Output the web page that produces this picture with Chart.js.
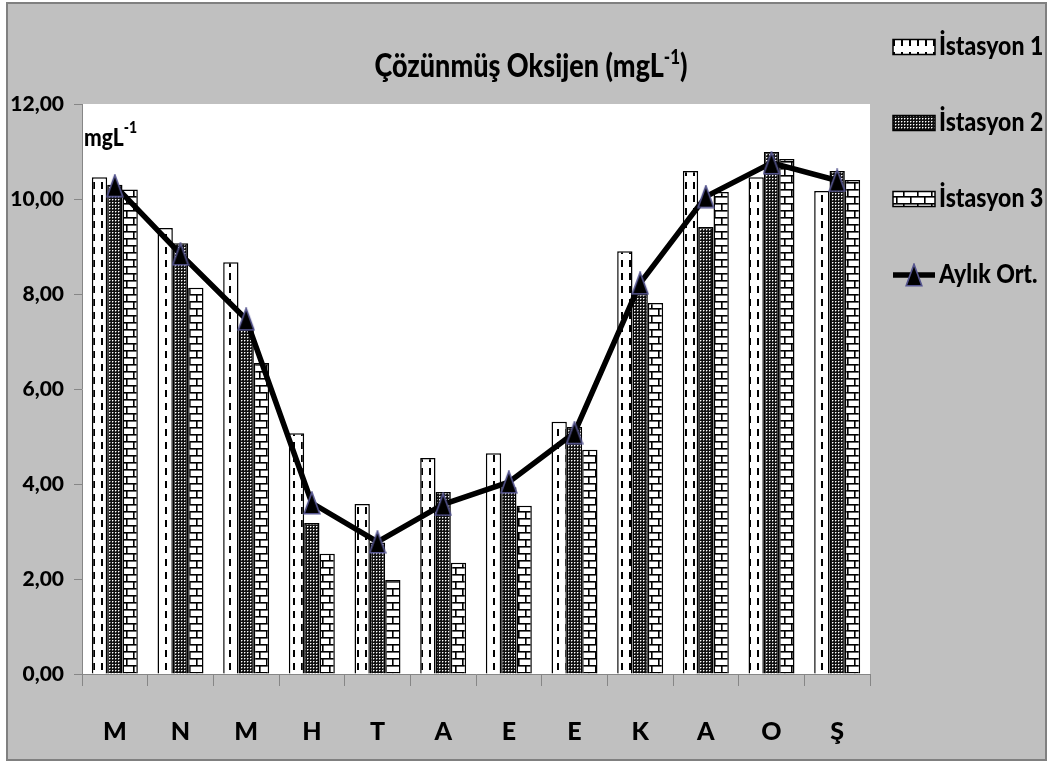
<!DOCTYPE html>
<html>
<head>
<meta charset="utf-8">
<script src="https://cdn.jsdelivr.net/npm/chart.js@4/dist/chart.umd.min.js"></script>
<style>
  html, body { margin: 0; padding: 0; background: #fff; }
  #c { display: block; }
</style>
</head>
<body>
<canvas id="c" width="1051" height="762"></canvas>
<script>
// Monthly dissolved oxygen (mg/L) at three stations plus the monthly mean
const months = ['M', 'N', 'M', 'H', 'T', 'A', 'E', 'E', 'K', 'A', 'O', 'Ş'];
const istasyon1 = [10.46, 9.39, 8.67, 5.07, 3.58, 4.55, 4.65, 5.31, 8.90, 10.59, 10.46, 10.17];
const istasyon2 = [10.30, 9.07, 7.28, 3.18, 2.77, 3.83, 3.93, 5.20, 8.00, 9.41, 10.99, 10.59];
const istasyon3 = [10.20, 8.13, 6.55, 2.53, 1.98, 2.34, 3.54, 4.72, 7.81, 10.15, 10.84, 10.40];
const aylikOrt  = [10.28, 8.84, 7.47, 3.60, 2.78, 3.57, 4.04, 5.08, 8.23, 10.05, 10.76, 10.39];
const seriesNames = ['İstasyon 1', 'İstasyon 2', 'İstasyon 3', 'Aylık Ort.'];
const yMin = 0, yMax = 12, yStep = 2;

const FONT = 'Lato, "Open Sans", sans-serif';
const WEIGHT = '900';

// ---- fill patterns -------------------------------------------------------
function makeCanvas(w, h) {
  const c = document.createElement('canvas');
  c.width = w; c.height = h;
  return c;
}
const patCtx = document.getElementById('c').getContext('2d');

// white with a dashed vertical stripe
function dashedPattern() {
  const c = makeCanvas(8, 13), g = c.getContext('2d');
  g.fillStyle = '#fff'; g.fillRect(0, 0, 8, 13);
  g.fillStyle = '#000'; g.fillRect(5, 0, 2, 7);
  return patCtx.createPattern(c, 'repeat');
}
// dark mesh with small light dots
function dottedPattern() {
  const c = makeCanvas(3, 3), g = c.getContext('2d');
  g.fillStyle = '#111'; g.fillRect(0, 0, 3, 3);
  g.fillStyle = '#fff'; g.fillRect(1, 1, 1, 1);
  g.fillStyle = '#777'; g.fillRect(2, 1, 1, 1); g.fillRect(1, 2, 1, 1);
  return patCtx.createPattern(c, 'repeat');
}
// white bricks with black mortar lines
function brickPattern() {
  const c = makeCanvas(14, 14), g = c.getContext('2d');
  g.fillStyle = '#fff'; g.fillRect(0, 0, 14, 14);
  g.fillStyle = '#000';
  g.fillRect(0, 0, 14, 1.6);
  g.fillRect(0, 7, 14, 1.6);
  g.fillRect(0, 0, 1.6, 7);
  g.fillRect(7, 7, 1.6, 7);
  return patCtx.createPattern(c, 'repeat');
}

// triangle marker used by the monthly-mean line
function triangleMarker() {
  const c = makeCanvas(18, 24), g = c.getContext('2d');
  g.beginPath();
  g.moveTo(9, 1.2); g.lineTo(16.8, 22.8); g.lineTo(1.2, 22.8); g.closePath();
  g.fillStyle = '#000'; g.fill();
  g.lineWidth = 1.6; g.strokeStyle = '#55558f'; g.stroke();
  return c;
}
const triImg = triangleMarker();

// ---- text helpers ----------------------------------------------------------
function font(size) { return WEIGHT + ' ' + size + 'px ' + FONT; }

function supWidth(ctx, base, sup, tail, size, supSize) {
  ctx.font = font(size); let w = ctx.measureText(base).width;
  ctx.font = font(supSize); w += ctx.measureText(sup).width;
  ctx.font = font(size); w += ctx.measureText(tail).width;
  return w;
}
// text with a raised suffix, stretched vertically by sy around the baseline
function drawSup(ctx, x, y, base, sup, tail, size, supSize, rise, sy) {
  ctx.save();
  ctx.translate(x, y); ctx.scale(1, sy || 1);
  ctx.textBaseline = 'alphabetic'; ctx.textAlign = 'left'; ctx.fillStyle = '#000';
  let cx = 0;
  ctx.font = font(size); ctx.fillText(base, cx, 0); cx += ctx.measureText(base).width;
  ctx.font = font(supSize); ctx.fillText(sup, cx, -rise); cx += ctx.measureText(sup).width;
  ctx.font = font(size); ctx.fillText(tail, cx, 0);
  ctx.restore();
}

// ---- frame, titles and legend ---------------------------------------------
const decor = {
  id: 'decor',
  beforeDraw(chart) {
    const ctx = chart.ctx, a = chart.chartArea;
    ctx.save();
    ctx.fillStyle = '#fff'; ctx.fillRect(0, 0, chart.width, chart.height);
    ctx.fillStyle = '#c0c0c0'; ctx.fillRect(7, 3, 1039, 757);
    ctx.strokeStyle = '#808080'; ctx.lineWidth = 2; ctx.strokeRect(7, 3, 1039, 757);
    ctx.fillStyle = '#fff'; ctx.fillRect(a.left, a.top, a.right - a.left, a.bottom - a.top);
    ctx.restore();
  },
  afterDraw(chart) {
    const ctx = chart.ctx;
    ctx.save();
    // chart title
    const tw = supWidth(ctx, 'Çözünmüş Oksijen (mgL', '-1', ')', 27, 17);
    drawSup(ctx, 531 - tw / 2, 77, 'Çözünmüş Oksijen (mgL', '-1', ')', 27, 17, 11, 1.18);
    // unit label inside the plot
    drawSup(ctx, 84, 146, 'mgL', '-1', '', 21, 14, 11, 1.18);

    // legend
    const ds = chart.data.datasets;
    const rows = [47, 123, 199, 275];
    const bx = 893, bw = 42, bh = 15, tx = 939;
    ds.forEach((d, i) => {
      const cy = rows[i];
      if (d.type === 'line') {
        ctx.strokeStyle = '#000'; ctx.lineWidth = 5.5;
        ctx.beginPath(); ctx.moveTo(bx, cy); ctx.lineTo(bx + bw, cy); ctx.stroke();
        ctx.drawImage(triImg, bx + bw / 2 - triImg.width / 2, cy - triImg.height / 2);
      } else {
        ctx.fillStyle = d.backgroundColor;
        ctx.fillRect(bx, cy - bh / 2, bw, bh);
        ctx.strokeStyle = '#000'; ctx.lineWidth = 1.5;
        ctx.strokeRect(bx, cy - bh / 2, bw, bh);
      }
      ctx.save();
      ctx.translate(tx, cy + 8); ctx.scale(1, 1.18);
      ctx.fillStyle = '#000'; ctx.font = font(23);
      ctx.textAlign = 'left'; ctx.textBaseline = 'alphabetic';
      ctx.fillText(d.label, 0, 0);
      ctx.restore();
    });
    ctx.restore();
  }
};

const barCommon = {
  type: 'bar',
  borderColor: '#000',
  borderWidth: 1.5,
  categoryPercentage: 0.70,
  barPercentage: 1.0,
  order: 1
};

new Chart(document.getElementById('c'), {
  data: {
    labels: months,
    datasets: [
      Object.assign({ label: seriesNames[0], data: istasyon1, backgroundColor: dashedPattern() }, barCommon),
      Object.assign({ label: seriesNames[1], data: istasyon2, backgroundColor: dottedPattern() }, barCommon),
      Object.assign({ label: seriesNames[2], data: istasyon3, backgroundColor: brickPattern() }, barCommon),
      {
        type: 'line',
        label: seriesNames[3],
        data: aylikOrt,
        borderColor: '#000',
        borderWidth: 5.5,
        borderJoinStyle: 'round',
        tension: 0,
        pointStyle: triImg,
        pointRadius: 11,
        pointHoverRadius: 11,
        order: 0
      }
    ]
  },
  options: {
    responsive: false,
    animation: false,
    devicePixelRatio: 1,
    layout: { padding: { left: 7, top: 104, right: 181, bottom: 2 } },
    plugins: {
      legend: { display: false },
      title: { display: false },
      tooltip: { enabled: false }
    },
    scales: {
      x: {
        grid: {
          display: true, offset: true, drawOnChartArea: false,
          drawTicks: true, tickLength: 12, color: '#868686', lineWidth: 1
        },
        border: { display: true, color: '#868686', width: 1 },
        ticks: {
          font: { family: FONT, size: 25, weight: WEIGHT },
          color: '#000', padding: 31, maxRotation: 0, autoSkip: false
        },
        afterFit(s) { s.height = 86; }
      },
      y: {
        min: yMin, max: yMax,
        grid: {
          display: true, drawOnChartArea: false, drawTicks: true,
          tickLength: 8, color: '#868686', lineWidth: 1
        },
        border: { display: true, color: '#868686', width: 1 },
        ticks: {
          stepSize: yStep,
          callback: v => v.toFixed(2).replace('.', ','),
          font: { family: FONT, size: 21, weight: WEIGHT },
          color: '#000', padding: 10
        },
        afterFit(s) { s.width = 75; }
      }
    }
  },
  plugins: [decor]
});
</script>
</body>
</html>
